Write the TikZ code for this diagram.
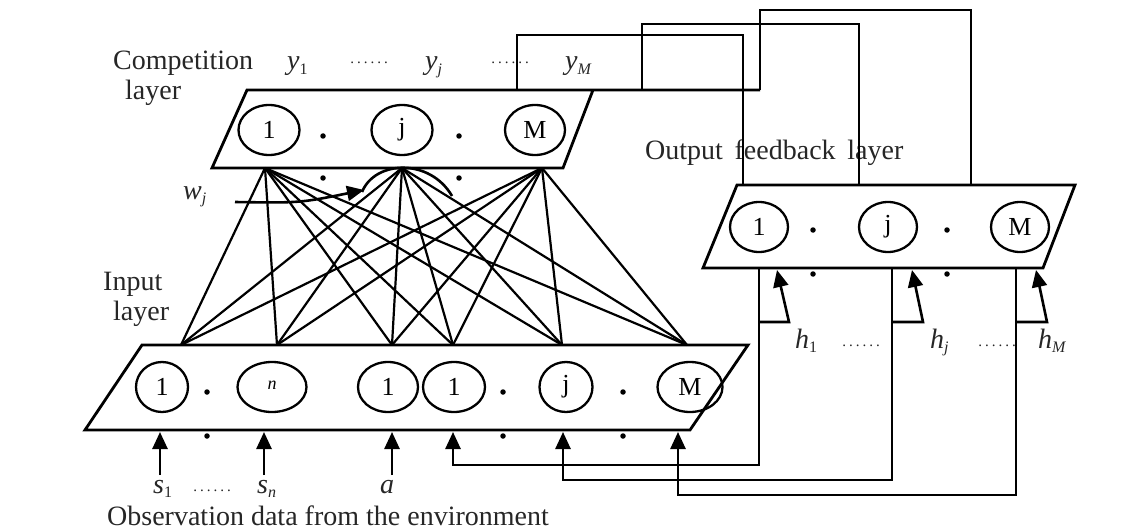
\documentclass[tikz,border=0pt]{standalone}
\usepackage{fontspec}
\setmainfont{Liberation Serif}
\usetikzlibrary{arrows.meta,shapes.geometric}

\newcommand\lblfont{\fontsize{28}{32}\selectfont}
\newcommand\unitfont{\fontsize{26}{30}\selectfont}
\newcommand\varlab[2]{\textit{#1}\raisebox{-0.35ex}{\fontsize{16}{16}\selectfont #2}}
\newcommand\dotrow{{\fontsize{15}{15}\selectfont .\kern3pt.\kern3pt.\kern3pt.\kern3pt.\kern3pt.}}

\tikzset{
  wire/.style={line width=2.6pt, line join=miter},
  fan/.style={line width=2.2pt},
  layerbox/.style={line width=2.8pt, line join=miter},
  unit/.style={ellipse, draw, line width=2.3pt, inner sep=0pt, font=\unitfont},
  feed/.style={wire, -{Triangle[length=17pt,width=15pt]}},
  lbl/.style={font=\lblfont, inner sep=0pt, text=black!85},
  dotlbl/.style={inner sep=0pt, text=black!85},
  spot/.style={circle, fill, inner sep=0pt, minimum size=5.5pt},
}

\begin{document}
\begin{tikzpicture}[x=1pt, y=-1pt]
\useasboundingbox (0,0) rectangle (1143,532);

% ---------------- competition layer ----------------
\draw[layerbox] (593,90) -- (563,168) -- (212,168) -- (247,90) -- (760,90);
\node[unit, minimum width=61pt, minimum height=50pt] (c1) at (269,130) {1};
\node[unit, minimum width=61pt, minimum height=50pt] (cj) at (402,130) {j};
\node[unit, minimum width=60pt, minimum height=50pt] (cM) at (535,130) {M};
\node[spot] (cd1) at (323,136) {};
\node[spot] (cd2) at (459,136) {};
\node[spot] (cd3) at (323,178) {};
\node[spot] (cd4) at (459,178) {};

\node[lbl, anchor=base west] (complab) at (113,70) {Competition};
\node[lbl, anchor=base west] (complab2) at (125,100) {layer};
\node[lbl, anchor=base west] (y1) at (287,70) {\varlab{y}{1}};
\node[dotlbl] (ydots1) at (369,63) {\dotrow};
\node[lbl, anchor=base west] (yj) at (425,70) {\varlab{y}{\textit{j}}};
\node[dotlbl] (ydots2) at (510,63) {\dotrow};
\node[lbl, anchor=base west] (yM) at (565,70) {\varlab{y}{\textit{M}}};

% ---------------- output feedback layer ----------------
\draw[layerbox] (737,185) -- (1075,185) -- (1043,268) -- (703,268) -- cycle;
\node[unit, minimum width=58pt, minimum height=50pt] (o1) at (759,227) {1};
\node[unit, minimum width=58pt, minimum height=50pt] (oj) at (888,227) {j};
\node[unit, minimum width=58pt, minimum height=50pt] (oM) at (1020,227) {M};
\node[spot] (od1) at (813,230) {};
\node[spot] (od2) at (947,230) {};
\node[spot] (od3) at (813,274) {};
\node[spot] (od4) at (947,274) {};
\node[lbl, anchor=base west] (outlab) at (645,160) {Output\, feedback\, layer};

% ---------------- input layer ----------------
\draw[layerbox] (142,345) -- (748,345) -- (690,430) -- (85,430) -- cycle;
\node[unit, minimum width=52pt, minimum height=50pt] (i1) at (162,387) {1};
\node[unit, minimum width=69pt, minimum height=50pt, font=\fontsize{18}{20}\selectfont] (in) at (272,387) {\raisebox{4pt}{\textit{n}}};
\node[unit, minimum width=60pt, minimum height=50pt] (ia) at (388,387) {1};
\node[unit, minimum width=62pt, minimum height=50pt] (ib) at (454,387) {1};
\node[unit, minimum width=53pt, minimum height=50pt] (ij) at (566,387) {j};
\node[unit, minimum width=65pt, minimum height=50pt] (iM) at (690,387) {M};
\node[spot] (id1) at (207,392) {};
\node[spot] (id2) at (503,392) {};
\node[spot] (id3) at (623,392) {};
\node[spot] (id4) at (207,436) {};
\node[spot] (id5) at (503,436) {};
\node[spot] (id6) at (623,436) {};
\node[lbl, anchor=base west] (inlab) at (103,290) {Input};
\node[lbl, anchor=base west] (inlab2) at (113,320) {layer};

% ---------------- full connection between input and competition ----------------
\coordinate (cb1) at (265,168);
\coordinate (cb2) at (402,168);
\coordinate (cb3) at (542,168);
\coordinate (it1) at (181,345);
\coordinate (it2) at (277,345);
\coordinate (it3) at (392,345);
\coordinate (it4) at (453,345);
\coordinate (it5) at (562,345);
\coordinate (it6) at (687,345);
\foreach \c in {cb1,cb2,cb3}
  \foreach \i in {it1,it2,it3,it4,it5,it6}
    \draw[fan] (\c) -- (\i);

% weight marker w_j
\coordinate (wstart) at (235,202);
\coordinate (wtip) at (364,190);
\coordinate (arcl) at (362,192);
\coordinate (arcr) at (452,196);
\draw[wire] (arcl) .. controls (375,160) and (430,158) .. (arcr);
\draw[feed] (wstart) .. controls (300,203) .. (wtip);
\node[lbl, anchor=base west] (wlab) at (183,199) {\varlab{w}{\textit{j}}};

% ---------------- outputs fed forward to the output feedback layer ----------------
\coordinate (yo1) at (517,90);
\coordinate (yo2) at (642,90);
\coordinate (yo3) at (760,90);
\coordinate (fb1) at (743,185);
\coordinate (fb2) at (859,185);
\coordinate (fb3) at (971,185);
\draw[wire] (yo1) -- ++(0,-55) -| (fb1);
\draw[wire] (yo2) -- ++(0,-66) -| (fb2);
\draw[wire] (yo3) -- ++(0,-80) -| (fb3);

% ---------------- feedback back to the input layer ----------------
\coordinate (ob1) at (759,268);
\coordinate (ob2) at (892,268);
\coordinate (ob3) at (1016,268);
\coordinate (ia1) at (453,432);
\coordinate (ia2) at (563,432);
\coordinate (ia3) at (678,432);
\draw[feed] (ob1) -- ++(0,197) -| (ia1);
\draw[feed] (ob2) -- ++(0,212) -| (ia2);
\draw[feed] (ob3) -- ++(0,227) -| (ia3);

% self feedback loops h
\coordinate (h1a) at (759,322);
\coordinate (hja) at (892,322);
\coordinate (hMa) at (1016,322);
\coordinate (h1t) at (777,270);
\coordinate (hjt) at (912,270);
\coordinate (hMt) at (1036,270);
\draw[feed] (h1a) -- ++(30,0) -- (h1t);
\draw[feed] (hja) -- ++(31,0) -- (hjt);
\draw[feed] (hMa) -- ++(31,0) -- (hMt);
\node[lbl, anchor=base west] (h1) at (795,348) {\varlab{h}{1}};
\node[dotlbl] (hdots1) at (861,346) {\dotrow};
\node[lbl, anchor=base west] (hj) at (930,348) {\varlab{h}{\textit{j}}};
\node[dotlbl] (hdots2) at (997,346) {\dotrow};
\node[lbl, anchor=base west] (hM) at (1038,348) {\varlab{h}{\textit{M}}};

% ---------------- observations from the environment ----------------
\coordinate (s1b) at (160,475);
\coordinate (s1t) at (160,432);
\coordinate (snb) at (264,475);
\coordinate (snt) at (264,432);
\coordinate (ab) at (392,475);
\coordinate (at) at (392,432);
\draw[feed] (s1b) -- (s1t);
\draw[feed] (snb) -- (snt);
\draw[feed] (ab) -- (at);
\node[lbl, anchor=base west] (s1) at (153,493) {\varlab{s}{1}};
\node[dotlbl] (sdots) at (212,491) {\dotrow};
\node[lbl, anchor=base west] (sn) at (257,493) {\varlab{s}{\textit{n}}};
\node[lbl, anchor=base west] (alab) at (380,493) {\textit{a}};
\node[lbl, anchor=base west] (obs) at (107,525) {Observation data from the environment};
\end{tikzpicture}
\end{document}
